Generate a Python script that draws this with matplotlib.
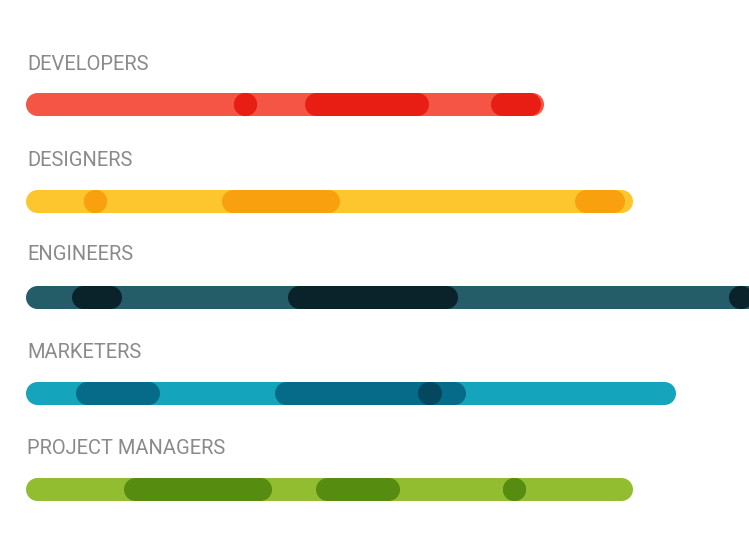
import matplotlib.pyplot as plt

# roles and their base span (start, end) on the horizontal scale
roles = ['DEVELOPERS', 'DESIGNERS', 'ENGINEERS', 'MARKETERS', 'PROJECT MANAGERS']
base_start = [25, 25, 25, 25, 25]
base_end = [543, 632, 770, 675, 632]

# highlighted spans per role (start, end)
highlights = [
    [(233, 256), (304, 428), (490, 540)],
    [(83, 106), (221, 339), (574, 624)],
    [(71, 121), (287, 457), (728, 752)],
    [(75, 159), (274, 465)],
    [(123, 271), (315, 399), (502, 525)],
]
# extra overlap marks (marketers)
overlap = [(3, (418, 440))]

base_colors = ['#F45545', '#FEC62E', '#245D68', '#14A4BC', '#93BD31']
dark_colors = ['#E81E14', '#F9A00E', '#0A222A', '#066B89', '#568C0F']
overlap_color = '#04475F'

row_y = [104, 201, 297, 393, 489]
label_y = [64, 160, 255, 352, 449]

W, H = 749, 538
fig = plt.figure(figsize=(W / 100, H / 100), dpi=100)
ax = fig.add_axes([0, 0, 1, 1])
ax.set_xlim(0, W)
ax.set_ylim(H, 0)
ax.axis('off')

thick = 23  # bar thickness in pixels
lw = thick * 72 / 100
r = thick / 2


def seg(x0, x1, y, color):
    # butt line plus round markers at both ends -> pill shape (works for dots too)
    ax.plot([x0 + r, x1 - r], [y, y], color=color, lw=lw,
            solid_capstyle='butt', marker='o', ms=lw, mew=0, mfc=color)


for i, role in enumerate(roles):
    seg(base_start[i], base_end[i], row_y[i], base_colors[i])
    for (s, e) in highlights[i]:
        seg(s, e, row_y[i], dark_colors[i])
    ax.text(27, label_y[i], role, fontsize=14.5, color='#8a8a8a',
            family='Roboto', fontweight='normal', va='center', ha='left')

for (i, (s, e)) in overlap:
    seg(s, e, row_y[i], overlap_color)

fig.savefig('out.png', dpi=100)
